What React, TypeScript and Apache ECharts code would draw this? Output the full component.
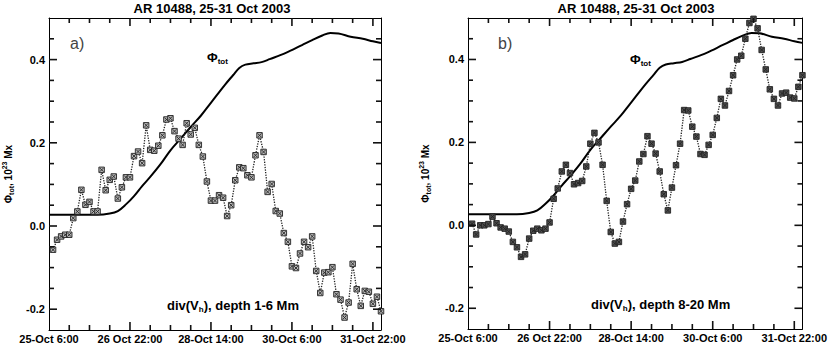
import React, { useEffect, useRef } from 'react';
import * as echarts from 'echarts';

// ---- data (hours since 25-Oct 6:00 UT) ----
const TICK_HOURS = [0, 40, 80, 120, 160];
const TICK_LABELS = ['25-Oct 6:00', '26 Oct 22:00', '28-Oct 14:00', '30-Oct 6:00', '31-Oct 22:00'];
const MINOR_HOURS = [10, 20, 30, 40, 50, 60, 70, 80, 90, 100, 110, 120, 130, 140, 150, 160];
const Y_MAJOR = [-0.2, 0, 0.2, 0.4];
const Y_MINOR = [-0.2, -0.15, -0.1, -0.05, 0, 0.05, 0.1, 0.15, 0.2, 0.25, 0.3, 0.35, 0.4, 0.45];
const X_MIN = 0;
const X_MAX = 164;
const Y_MIN = -0.25;
const Y_MAX = 0.5;

const PHI_HOURS = [0, 24, 30, 34, 38, 42, 46, 50, 55, 60, 65, 70, 75, 79, 83, 87, 91, 94, 97, 101, 105, 109, 117, 125, 130, 135, 139, 143, 149, 155, 160, 164];
const PHI_TOT = [0.027, 0.027, 0.030, 0.036, 0.052, 0.072, 0.096, 0.118, 0.148, 0.182, 0.21, 0.238, 0.265, 0.29, 0.315, 0.34, 0.363, 0.38, 0.388, 0.391, 0.394, 0.401, 0.416, 0.435, 0.447, 0.458, 0.464, 0.463, 0.455, 0.45, 0.444, 0.44];

// divergence samples every 2 h, from 2 h to 164 h
const DIV_HOURS = Array.from({ length: 82 }, (_, i) => 2 + 2 * i);
const DIV_1_6 = [
  -0.057, -0.033, -0.025, -0.021, -0.021, 0.019, 0.035, 0.087, 0.051, 0.058,
  0.035, 0.035, 0.135, 0.086, 0.111, 0.119, 0.066, 0.093, 0.117, 0.117,
  0.168, 0.179, 0.151, 0.242, 0.183, 0.181, 0.193, 0.218, 0.256, 0.259,
  0.228, 0.21, 0.195, 0.247, 0.22, 0.236, 0.195, 0.167, 0.107, 0.061,
  0.061, 0.074, 0.068, 0.024, 0.05, 0.11, 0.141, 0.139, 0.122, 0.117,
  0.17, 0.218, 0.178, 0.082, 0.101, 0.036, 0.03, -0.017, -0.038, -0.097,
  -0.101, -0.066, -0.038, -0.051, -0.025, -0.108, -0.161, -0.112, -0.111, -0.099,
  -0.164, -0.177, -0.22, -0.184, -0.091, -0.152, -0.192, -0.156, -0.158, -0.187,
  -0.17, -0.205,
];
const DIV_8_20 = [
  0.004, -0.022, 0.0, 0.0, 0.003, 0.021, 0.005, -0.005, -0.008, -0.015,
  -0.04, -0.053, -0.076, -0.07, -0.032, -0.013, -0.008, -0.012, -0.008, 0.007,
  0.064, 0.089, 0.13, 0.146, 0.126, 0.099, 0.102, 0.107, 0.142, 0.197,
  0.223, 0.2, 0.146, 0.059, -0.016, -0.044, -0.04, 0.009, 0.051, 0.088,
  0.108, 0.154, 0.172, 0.215, 0.197, 0.173, 0.13, 0.075, 0.036, 0.091,
  0.145, 0.197, 0.278, 0.277, 0.238, 0.214, 0.172, 0.17, 0.194, 0.218,
  0.259, 0.305, 0.289, 0.324, 0.362, 0.4, 0.409, 0.45, 0.488, 0.498,
  0.475, 0.423, 0.376, 0.328, 0.305, 0.289, 0.318, 0.32, 0.308, 0.306,
  0.334, 0.362,
];

const TITLE = 'AR 10488, 25-31 Oct 2003';
const PANEL_TAGS = ['a)', 'b)'];
const DEPTHS = ['depth 1-6 Mm', 'depth 8-20 Mm'];

const FONT = '"Liberation Sans", Arial, Helvetica, sans-serif';

const GRIDS = [
  { left: 43, top: 18, width: 338, height: 312 },
  { left: 468, top: 18, width: 336, height: 311 },
];

const BLACK = '#000';
const axLine = { show: true, onZero: false, lineStyle: { color: BLACK, width: 1 } };

const isMajorY = (v: number) => Y_MAJOR.some((m) => Math.abs(m - v) < 1e-6);

// one entry per tick mark (each side of the frame), drawn through the axes' scales
const TICKS: { axis: string; side: number; v: number; major: boolean }[] = [];
[0, 1].forEach((side) => {
  MINOR_HOURS.forEach((h) => TICKS.push({ axis: 'x', side, v: h, major: TICK_HOURS.includes(h) }));
  Y_MINOR.forEach((v) => TICKS.push({ axis: 'y', side, v, major: isMajorY(v) }));
});

function xAxes(gi: number) {
  const base = { type: 'value', gridIndex: gi, min: X_MIN, max: X_MAX, splitLine: { show: false }, axisTick: { show: false } };
  return [
    {
      ...base, position: 'bottom', interval: 40, axisLine: axLine,
      axisLabel: {
        show: true, margin: 3, color: BLACK, fontFamily: FONT, fontWeight: 'bold', fontSize: 11,
        formatter: (v: number) => {
          const i = TICK_HOURS.indexOf(Math.round(v));
          return i >= 0 ? TICK_LABELS[i] : '';
        },
      },
    },
    { ...base, position: 'top', axisLine: axLine, axisLabel: { show: false } },
  ];
}

function yAxes(gi: number, nameGap: number) {
  const base = { type: 'value', gridIndex: gi, min: Y_MIN, max: Y_MAX, splitLine: { show: false }, axisTick: { show: false } };
  return [
    {
      ...base, position: 'left', interval: 0.05, axisLine: axLine,
      axisLabel: {
        show: true, margin: 4, color: BLACK, fontFamily: FONT, fontWeight: 'bold', fontSize: 11,
        formatter: (v: number) => {
          const r = Math.round(v * 100) / 100;
          return isMajorY(r) ? r.toFixed(1) : '';
        },
      },
      name: '{a|Φ}{s|tot}{a|, 10}{p|23}{a| Mx}',
      nameLocation: 'middle',
      nameGap,
      nameRotate: 90,
      nameTextStyle: {
        color: BLACK,
        fontFamily: FONT,
        rich: {
          a: { fontFamily: FONT, fontWeight: 'bold', fontSize: 10, color: BLACK, lineHeight: 14, verticalAlign: 'middle' },
          s: { fontFamily: FONT, fontWeight: 'bold', fontSize: 7, color: BLACK, lineHeight: 8, verticalAlign: 'bottom' },
          p: { fontFamily: FONT, fontWeight: 'bold', fontSize: 7, color: BLACK, lineHeight: 8, verticalAlign: 'top' },
        },
      },
    },
    { ...base, position: 'right', axisLine: axLine, axisLabel: { show: false } },
  ];
}

const MARK = 'path://M0,0H10V10H0Z M1.5,1.5L8.5,8.5 M8.5,1.5L1.5,8.5';

function tickSeries(gi: number) {
  return {
    type: 'custom',
    xAxisIndex: gi * 2,
    yAxisIndex: gi * 2,
    clip: false,
    z: 10,
    data: TICKS.map((t) => (t.axis === 'x' ? [t.v, Y_MIN] : [X_MIN, t.v])),
    renderItem: (params: any, api: any) => {
      const t = TICKS[params.dataIndex];
      const cs = params.coordSys;
      const len = t.major ? 8 : 5;
      const style = { stroke: '#111', lineWidth: 1.6 };
      if (t.axis === 'x') {
        const px = api.coord([t.v, Y_MIN])[0];
        const y0 = t.side === 0 ? cs.y + cs.height : cs.y;
        const y1 = t.side === 0 ? y0 - len : y0 + len;
        return { type: 'line', shape: { x1: px, y1: y0, x2: px, y2: y1 }, style };
      }
      const py = api.coord([X_MIN, t.v])[1];
      const x0 = t.side === 0 ? cs.x : cs.x + cs.width;
      const x1 = t.side === 0 ? x0 + len : x0 - len;
      return { type: 'line', shape: { x1: x0, y1: py, x2: x1, y2: py }, style };
    },
  };
}

function series(gi: number, div: number[], fill: string) {
  return [
    {
      type: 'line',
      name: 'phi',
      xAxisIndex: gi * 2,
      yAxisIndex: gi * 2,
      data: PHI_HOURS.map((h, i) => [h, PHI_TOT[i]]),
      smooth: 0.35,
      showSymbol: false,
      lineStyle: { color: BLACK, width: 2 },
      z: 3,
    },
    {
      type: 'line',
      name: 'div',
      xAxisIndex: gi * 2,
      yAxisIndex: gi * 2,
      data: DIV_HOURS.map((h, i) => [h, div[i]]),
      symbol: MARK,
      symbolSize: 5.5,
      showSymbol: true,
      lineStyle: { color: '#222', width: 1.3, type: 'dotted' },
      itemStyle: { color: fill, borderColor: '#222', borderWidth: 0.9 },
      z: 4,
    },
    tickSeries(gi),
  ];
}

function labelText(x: number, y: number, style: any) {
  return { type: 'text', x, y, silent: true, style: { fontFamily: FONT, fill: BLACK, ...style } };
}

export default function App() {
  const ref = useRef<HTMLDivElement>(null);
  useEffect(() => {
    if (!ref.current) return;
    const chart = echarts.init(ref.current, undefined, { renderer: 'svg' });
    const phiRich = {
      f: { fontFamily: FONT, fontWeight: 'bold', fontSize: 13, fill: BLACK, lineHeight: 16, verticalAlign: 'middle' },
      s: { fontFamily: FONT, fontWeight: 'bold', fontSize: 8, fill: BLACK, lineHeight: 9, verticalAlign: 'bottom' },
    };
    const divRich = (depth: string) => ({
      text: `{a|div(V}{s|h}{a|), ${depth}}`,
      rich: {
        a: { fontFamily: FONT, fontWeight: 'bold', fontSize: 13, fill: BLACK, lineHeight: 16, verticalAlign: 'middle' },
        s: { fontFamily: FONT, fontWeight: 'bold', fontSize: 8, fill: BLACK, lineHeight: 9, verticalAlign: 'bottom' },
      },
      verticalAlign: 'middle',
    });
    chart.setOption({
      animation: false,
      backgroundColor: '#fff',
      grid: GRIDS,
      xAxis: [...xAxes(0), ...xAxes(1)],
      yAxis: [...yAxes(0, 34), ...yAxes(1, 36)],
      series: [...series(0, DIV_1_6, '#b8b8b8'), ...series(1, DIV_8_20, '#505050')],
      graphic: [
        labelText(212, 8, { text: TITLE, fontWeight: 'bold', fontSize: 13, align: 'center', verticalAlign: 'middle' }),
        labelText(636, 8, { text: TITLE, fontWeight: 'bold', fontSize: 13, align: 'center', verticalAlign: 'middle' }),
        labelText(70, 43, { text: PANEL_TAGS[0], fontSize: 16, fill: '#444', verticalAlign: 'middle' }),
        labelText(498, 43, { text: PANEL_TAGS[1], fontSize: 16, fill: '#444', verticalAlign: 'middle' }),
        labelText(207, 57, { text: '{f|Φ}{s|tot}', rich: phiRich, verticalAlign: 'middle' }),
        labelText(630, 59, { text: '{f|Φ}{s|tot}', rich: phiRich, verticalAlign: 'middle' }),
        labelText(167, 305, divRich(DEPTHS[0])),
        labelText(591, 304, divRich(DEPTHS[1])),
      ],
    });
    return () => chart.dispose();
  }, []);
  return (
    <div
      ref={ref}
      style={{ position: 'absolute', left: 0, top: 0, width: 830, height: 346, background: '#fff' }}
    />
  );
}
